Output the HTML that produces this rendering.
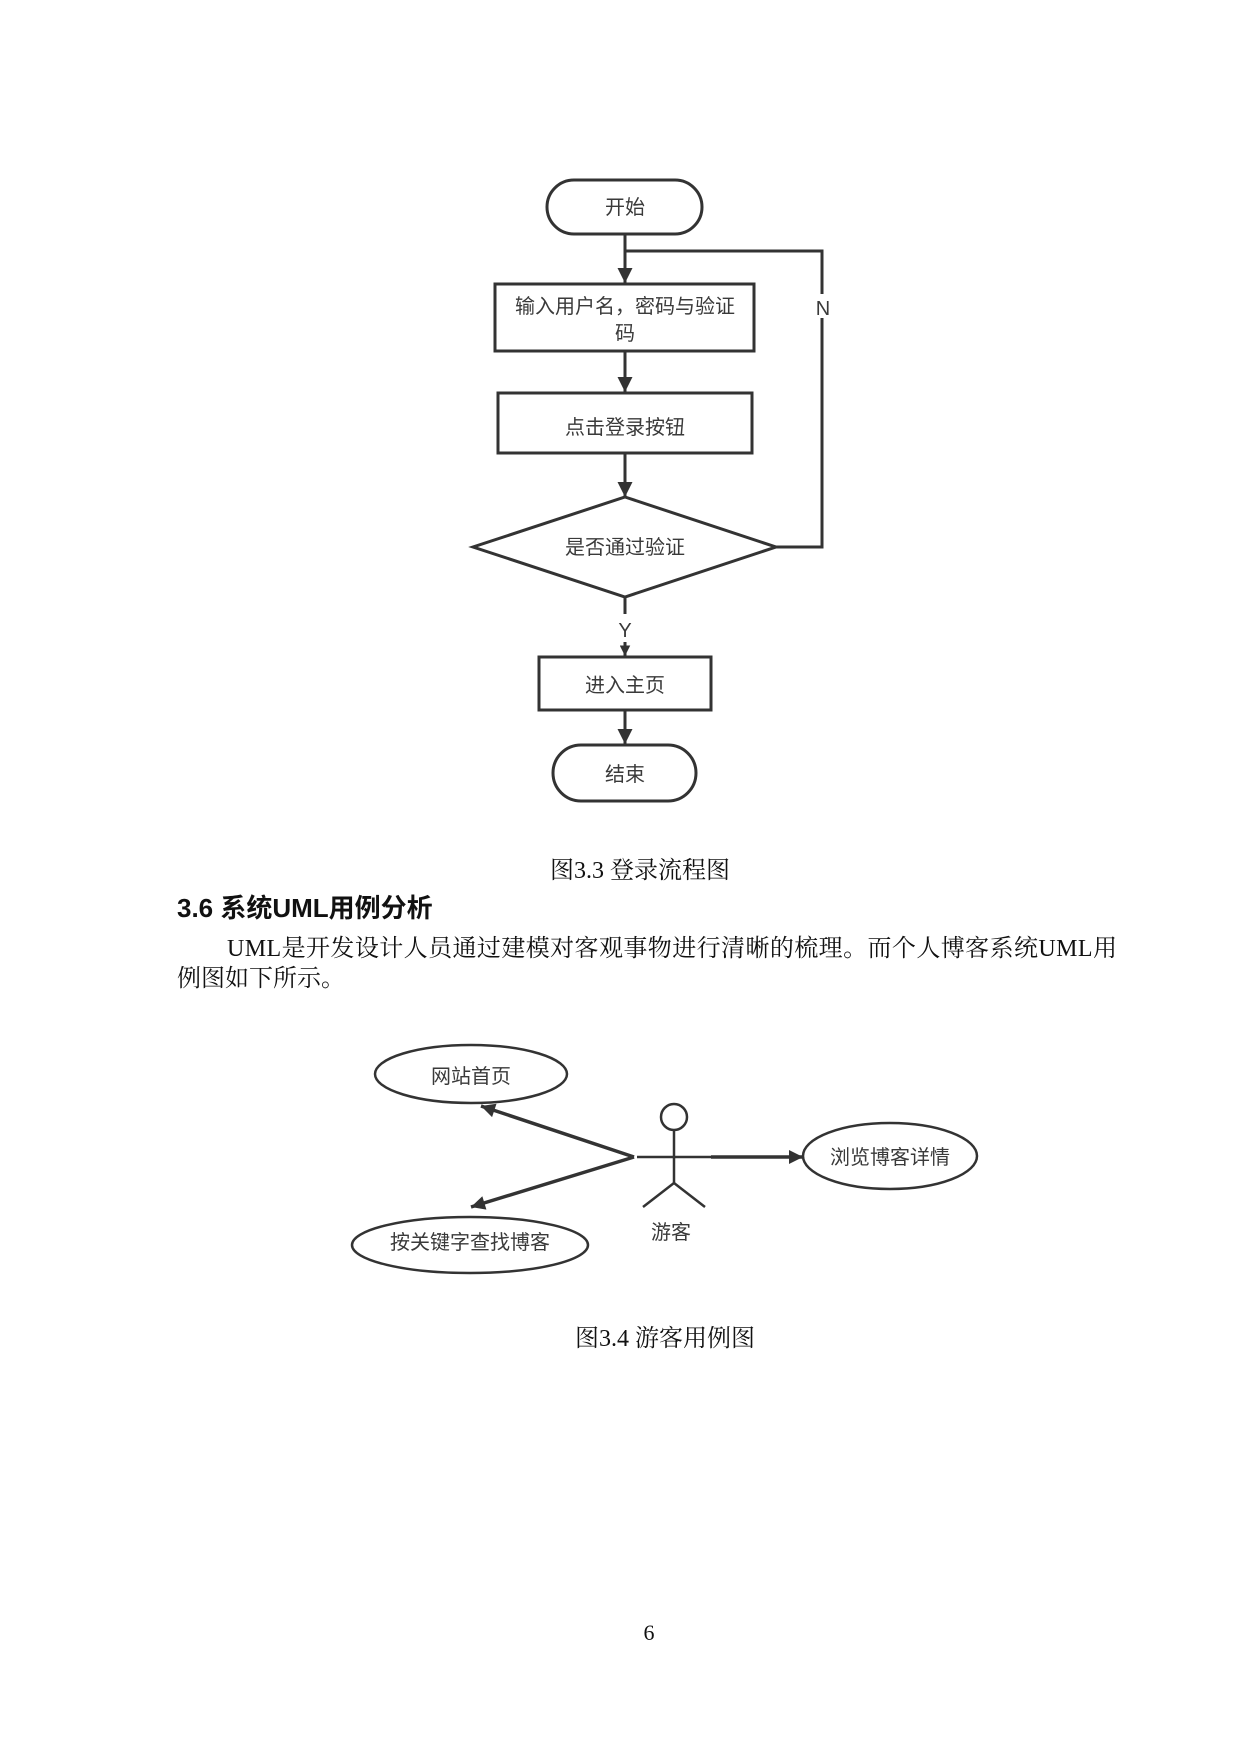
<!DOCTYPE html>
<html><head><meta charset="utf-8"><style>
html,body{margin:0;padding:0;background:#fff}
svg{display:block}
.fc{font-family:"Liberation Sans","Noto Sans CJK SC",sans-serif;font-size:20px;fill:#3a3a3a}
.sr{font-family:"Liberation Serif","Noto Serif CJK SC",serif;font-size:24px;fill:#111}
</style></head><body>
<svg width="1240" height="1754" viewBox="0 0 1240 1754" xmlns="http://www.w3.org/2000/svg">
<defs>
<marker id="a" viewBox="0 0 10 10" refX="10" refY="5" markerWidth="7.5" markerHeight="5" orient="auto" markerUnits="strokeWidth"><path d="M0,0 L10,5 L0,10 z" fill="#333"/></marker>
<marker id="s" viewBox="0 0 10 10" refX="10" refY="5" markerWidth="4" markerHeight="3.5" orient="auto" markerUnits="strokeWidth"><path d="M0,0 L10,5 L0,10 z" fill="#333"/></marker>
<marker id="u" viewBox="0 0 10 10" refX="10" refY="5" markerWidth="5.5" markerHeight="4" orient="auto" markerUnits="strokeWidth"><path d="M0,0 L10,5 L0,10 z" fill="#333"/></marker>
</defs>
<g stroke="#333" stroke-width="3" fill="none">
<rect x="547" y="180" width="155" height="54" rx="27"/>
<line x1="625" y1="234" x2="625" y2="283" marker-end="url(#a)"/>
<polyline points="625,251 822,251 822,547 776,547"/>
<rect x="495" y="284" width="259" height="67"/>
<line x1="625" y1="351" x2="625" y2="392" marker-end="url(#a)"/>
<rect x="498" y="393" width="254" height="60"/>
<line x1="625" y1="453" x2="625" y2="497" marker-end="url(#a)"/>
<polygon points="625,497 776,547 625,597 473,547"/>
<line x1="625" y1="597" x2="625" y2="614"/>
<line x1="625" y1="642" x2="625" y2="656" marker-end="url(#s)"/>
<rect x="539" y="657" width="172" height="53"/>
<line x1="625" y1="710" x2="625" y2="744" marker-end="url(#a)"/>
<rect x="553" y="745" width="143" height="56" rx="28"/>
</g>
<rect x="812" y="294" width="20" height="24" fill="#fff"/>
<g class="fc" text-anchor="middle">
<text x="625" y="214">开始</text>
<text x="625" y="313">输入用户名，密码与验证</text>
<text x="625" y="340">码</text>
<text x="625" y="434">点击登录按钮</text>
<text x="625" y="554">是否通过验证</text>
<text x="625" y="637">Y</text>
<text x="823" y="315">N</text>
<text x="625" y="692">进入主页</text>
<text x="625" y="781">结束</text>
</g>
<text class="sr" x="550" y="878">图3.3 登录流程图</text>
<text class="sr" x="177" y="917" style="font-size:26px;font-weight:bold;font-family:'Liberation Sans','Noto Sans CJK SC',sans-serif">3.6 系统UML用例分析</text>
<text class="sr" x="227" y="956" textLength="890" lengthAdjust="spacing">UML是开发设计人员通过建模对客观事物进行清晰的梳理。而个人博客系统UML用</text>
<text class="sr" x="177" y="986">例图如下所示。</text>
<g stroke="#333" stroke-width="2.5" fill="none">
<ellipse cx="471" cy="1074" rx="96" ry="29"/>
<ellipse cx="470" cy="1245" rx="118" ry="28"/>
<ellipse cx="890" cy="1156" rx="87" ry="33"/>
<ellipse cx="674" cy="1117" rx="13" ry="13"/>
<line x1="674" y1="1130" x2="674" y2="1183"/>
<line x1="637" y1="1157" x2="711" y2="1157"/>
<line x1="674" y1="1183" x2="643" y2="1207"/>
<line x1="674" y1="1183" x2="705" y2="1207"/>
</g>
<g stroke="#333" stroke-width="3.5">
<line x1="634" y1="1157" x2="481" y2="1106" marker-end="url(#u)"/>
<line x1="634" y1="1157" x2="471" y2="1207" marker-end="url(#u)"/>
<line x1="711" y1="1157" x2="803" y2="1157" marker-end="url(#u)"/>
</g>
<g class="fc" text-anchor="middle">
<text x="471" y="1083">网站首页</text>
<text x="470" y="1249">按关键字查找博客</text>
<text x="890" y="1164">浏览博客详情</text>
<text x="671" y="1239">游客</text>
</g>
<text class="sr" x="575" y="1346">图3.4 游客用例图</text>
<text class="sr" x="649" y="1640" text-anchor="middle" style="font-size:22px">6</text>
</svg>
</body></html>
